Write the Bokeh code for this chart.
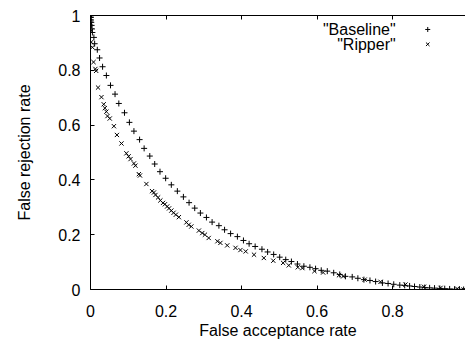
from bokeh.plotting import figure
from bokeh.models import Range1d, FixedTicker, LinearAxis, Label
from bokeh.embed import file_html
from bokeh.resources import INLINE

# ---- data ----
baseline_x = [0.000, 0.001, 0.001, 0.002, 0.003, 0.004, 0.005, 0.009, 0.011, 0.018,
              0.024, 0.032, 0.042, 0.053, 0.065, 0.075, 0.090, 0.103, 0.115, 0.130,
              0.142, 0.157, 0.170, 0.184, 0.199, 0.214, 0.230, 0.246, 0.261, 0.276,
              0.291, 0.307, 0.322, 0.340, 0.355, 0.371, 0.389, 0.405, 0.420, 0.436,
              0.454, 0.469, 0.485, 0.501, 0.517, 0.532, 0.548, 0.565, 0.581, 0.596,
              0.611, 0.627, 0.644, 0.660, 0.675, 0.693, 0.708, 0.724, 0.740, 0.755,
              0.773, 0.788, 0.803, 0.819, 0.832, 0.845, 0.858, 0.872, 0.885, 0.898,
              0.911, 0.925, 0.938, 0.951, 0.964, 0.977, 0.988]
baseline_y = [1.000, 0.993, 0.984, 0.975, 0.964, 0.951, 0.938, 0.920, 0.897, 0.875,
              0.845, 0.813, 0.781, 0.745, 0.713, 0.679, 0.645, 0.610, 0.578, 0.547,
              0.515, 0.487, 0.458, 0.430, 0.406, 0.382, 0.359, 0.338, 0.317, 0.297,
              0.279, 0.263, 0.246, 0.233, 0.218, 0.204, 0.193, 0.179, 0.167, 0.157,
              0.147, 0.137, 0.128, 0.118, 0.109, 0.102, 0.093, 0.085, 0.081, 0.076,
              0.070, 0.067, 0.061, 0.055, 0.048, 0.046, 0.041, 0.036, 0.033, 0.029,
              0.024, 0.022, 0.019, 0.016, 0.015, 0.013, 0.011, 0.009, 0.007, 0.006,
              0.005, 0.004, 0.003, 0.002, 0.001, 0.001, 0.000]

ripper_x = [0.000, 0.001, 0.001, 0.002, 0.002, 0.005, 0.008, 0.013, 0.015, 0.020,
            0.029, 0.035, 0.038, 0.042, 0.045, 0.051, 0.062, 0.070, 0.082, 0.095,
            0.101, 0.106, 0.115, 0.119, 0.128, 0.131, 0.148, 0.163, 0.168, 0.172,
            0.179, 0.185, 0.192, 0.197, 0.203, 0.208, 0.214, 0.220, 0.226, 0.234,
            0.254, 0.260, 0.267, 0.287, 0.296, 0.303, 0.313, 0.336, 0.344, 0.362,
            0.384, 0.397, 0.411, 0.433, 0.459, 0.484, 0.510, 0.525, 0.549, 0.561,
            0.593, 0.616, 0.658, 0.669, 0.726, 0.768, 0.834, 0.883, 0.927, 0.971,
            0.988]
ripper_y = [1.000, 0.989, 0.971, 0.945, 0.903, 0.884, 0.830, 0.805, 0.798, 0.737,
            0.702, 0.676, 0.662, 0.649, 0.633, 0.624, 0.596, 0.564, 0.533, 0.497,
            0.486, 0.476, 0.460, 0.452, 0.421, 0.416, 0.385, 0.359, 0.354, 0.345,
            0.336, 0.325, 0.316, 0.311, 0.303, 0.296, 0.288, 0.280, 0.273, 0.264,
            0.245, 0.236, 0.230, 0.215, 0.206, 0.200, 0.188, 0.176, 0.170, 0.161,
            0.152, 0.144, 0.139, 0.127, 0.115, 0.105, 0.097, 0.088, 0.081, 0.078,
            0.067, 0.062, 0.052, 0.048, 0.036, 0.028, 0.018, 0.010, 0.006, 0.003,
            0.000]

x_ticks = [0, 0.2, 0.4, 0.6, 0.8]
x_tick_labels = ["0", "0.2", "0.4", "0.6", "0.8"]
y_ticks = [0, 0.2, 0.4, 0.6, 0.8, 1]
y_tick_labels = ["0", "0.2", "0.4", "0.6", "0.8", "1"]

series_names = ['"Baseline"', '"Ripper"']

FONT = "Liberation Sans"
FS = "16px"

p = figure(width=465, height=341, output_backend="svg", toolbar_location=None,
           x_range=Range1d(0, 0.993), y_range=Range1d(0, 1),
           min_border_left=90, min_border_right=0, min_border_top=15,
           min_border_bottom=51, outline_line_color=None,
           background_fill_color="white", border_fill_color="white")
p.grid.visible = False

def style_axis(ax):
    ax.axis_line_color = "black"
    ax.axis_line_width = 1
    ax.major_tick_in = 4
    ax.major_tick_out = 0
    ax.major_tick_line_color = "black"
    ax.minor_tick_line_color = None
    ax.major_label_text_font = FONT
    ax.major_label_text_font_size = FS
    ax.major_label_text_color = "black"
    ax.axis_label_text_font = FONT
    ax.axis_label_text_font_size = FS
    ax.axis_label_text_font_style = "normal"
    ax.axis_label_text_color = "black"

xa = p.xaxis[0]
ya = p.yaxis[0]
xa.ticker = FixedTicker(ticks=x_ticks)
ya.ticker = FixedTicker(ticks=y_ticks)
xa.major_label_overrides = dict(zip(x_ticks, x_tick_labels))
ya.major_label_overrides = dict(zip(y_ticks, y_tick_labels))
style_axis(xa)
style_axis(ya)
xa.axis_label = "False acceptance rate"
ya.axis_label = "False rejection rate"
xa.major_label_standoff = 15
ya.major_label_standoff = 10
xa.axis_label_standoff = 2
ya.axis_label_standoff = 22

top = LinearAxis(ticker=FixedTicker(ticks=x_ticks), major_label_standoff=0)
style_axis(top)
top.major_label_overrides = {t: "" for t in x_ticks}
p.add_layout(top, "above")

p.scatter(baseline_x, baseline_y, marker="cross", size=6, line_color="black", line_width=1)
p.scatter(ripper_x, ripper_y, marker="x", size=6, line_color="black", line_width=1)

# legend (gnuplot style: text right-aligned, sample to the right)
leg_text_x = 0.808
leg_key_x = 0.893
leg_rows_y = [0.949, 0.895]
markers = ["cross", "x"]
for name, yy, mk in zip(series_names, leg_rows_y, markers):
    p.add_layout(Label(x=leg_text_x, y=yy, text=name, text_align="right",
                       text_baseline="middle", text_font=FONT, text_font_size=FS,
                       text_color="black"))
    p.scatter([leg_key_x], [yy], marker=mk, size=5, line_color="black", line_width=1)

open("out.html", "w").write(file_html(p, INLINE))
